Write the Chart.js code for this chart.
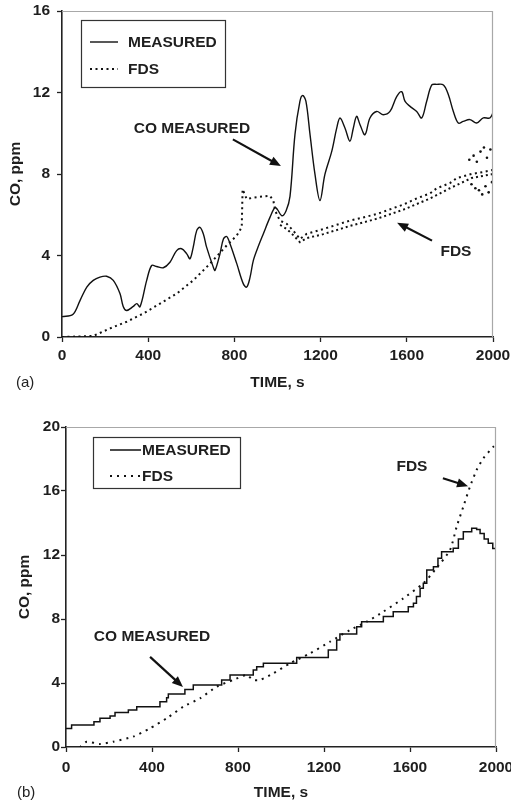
<!DOCTYPE html>
<html><head><meta charset="utf-8">
<script src="https://cdn.jsdelivr.net/npm/chart.js@4.4.1/dist/chart.umd.min.js"></script>
<style>
html,body{margin:0;padding:0;background:#fff;overflow:hidden;width:511px;height:802px}
canvas{position:absolute;left:0}
#ca{top:0}
#cb{top:400px}
.tag{position:absolute;font:15px "Liberation Sans",Arial,sans-serif;color:#222;line-height:18px}
</style></head><body>
<canvas id="ca" width="511" height="392"></canvas>
<canvas id="cb" width="511" height="402"></canvas>
<div class="tag" style="left:16px;top:373px">(a)</div>
<div class="tag" style="left:17px;top:783px">(b)</div>
<script>
// ---------- DATA ----------
const xTickValues = [0, 400, 800, 1200, 1600, 2000];
const yTickValuesA = [0, 4, 8, 12, 16];
const yTickValuesB = [0, 4, 8, 12, 16, 20];
const seriesNames = ['MEASURED', 'FDS'];
const xTitle = 'TIME, s';
const yTitle = 'CO, ppm';

// (a) measured
const timeMeasA = [0,50,84,115,145,176,207,238,269,284,300,331,347,362,393,416,439,470,501,532,555,579,594,609,625,640,656,671,702,710,733,749,764,780,811,841,857,872,888,911,934,965,988,1000,1020,1040,1058,1081,1104,1117,1132,1151,1174,1197,1220,1252,1275,1290,1313,1336,1352,1367,1383,1406,1429,1460,1491,1522,1553,1576,1592,1615,1646,1669,1692,1716,1739,1770,1793,1816,1839,1862,1893,1924,1955,1986,2000];
const coMeasA = [1.0,1.1,1.8,2.45,2.78,2.94,2.98,2.78,2.13,1.5,1.3,1.5,1.64,1.48,2.78,3.51,3.46,3.4,3.67,4.24,4.33,4.08,3.84,4.41,5.22,5.38,5.06,4.41,3.43,3.27,4.08,4.81,4.93,4.57,3.6,2.62,2.45,2.9,3.76,4.45,5.06,5.87,6.36,6.25,5.95,6.2,6.9,9.93,11.56,11.85,11.56,9.93,7.98,6.7,7.98,9.12,10.26,10.75,10.26,9.61,10.26,10.83,10.42,9.93,10.75,11.07,10.91,11.07,11.8,12.04,11.56,11.32,11.07,10.75,11.56,12.37,12.4,12.37,11.89,11.07,10.5,10.58,10.67,10.5,10.75,10.75,11.0];
// (a) FDS
const timeFdsA = [0,145,223,300,377,455,532,609,687,764,811,834,838,857,888,930,965,981,988,996,1012,1043,1073,1104,1135,1213,1336,1460,1584,1646,1708,1739,1800,1832,1900,1955,2000];
const coFdsA = [0,0.05,0.42,0.75,1.15,1.64,2.13,2.78,3.6,4.49,4.98,5.38,7.25,6.77,6.84,6.9,6.93,6.68,6.28,6.03,5.71,5.55,5.22,4.81,5.06,5.3,5.71,6.03,6.5,6.8,7.05,7.3,7.55,7.8,8.0,8.1,8.2];
// (a) FDS lower band of the noisy trace
const timeFdsA2 = [1012,1043,1073,1104,1135,1213,1336,1460,1584,1708,1800,1900,2000];
const coFdsA2 = [5.5,5.3,5.0,4.65,4.85,5.05,5.45,5.8,6.25,6.8,7.3,7.8,8.0];
// (a) FDS scatter at the end
const timeFdsA3 = [1890,1900,1910,1918,1925,1935,1942,1950,1958,1965,1972,1980,1988,1995];
const coFdsA3 = [8.7,7.5,8.9,7.3,8.6,7.2,9.1,7.0,9.3,7.4,8.8,7.1,9.2,7.6];

// (b) measured (stepped: value changes at the given time)
const timeMeasB = [0,26,130,158,205,228,290,329,437,468,476,553,592,724,763,871,887,918,1073,1220,1259,1274,1352,1375,1476,1522,1592,1616,1630,1647,1662,1678,1709,1730,1747,1801,1825,1848,1887,1910,1926,1945,1964,1985,2000];
const coMeasB = [1.15,1.38,1.58,1.79,1.94,2.15,2.31,2.52,2.83,3.08,3.31,3.6,3.87,4.19,4.5,4.81,5.02,5.23,5.6,6.06,6.69,7.06,7.52,7.83,8.15,8.46,8.77,8.98,9.4,9.92,10.23,11.06,11.27,11.8,12.2,12.42,13.0,13.46,13.67,13.6,13.35,13.0,12.73,12.4,12.2];
// (b) FDS
const timeFdsB = [65,96,158,220,313,391,468,546,623,701,778,840,871,902,964,1042,1135,1228,1321,1399,1476,1569,1662,1716,1786,1817,1848,1879,1910,1941,1988,2000];
const coFdsB = [0,0.33,0.19,0.33,0.65,1.17,1.79,2.52,3.04,3.77,4.19,4.5,4.19,4.19,4.6,5.23,5.85,6.58,7.31,7.83,8.46,9.29,10.23,11.06,12.31,13.77,15.02,16.27,17.31,18.04,18.77,18.9];

// annotation texts
const noteMeasured = 'CO MEASURED';
const noteFds = 'FDS';

// ---------- HELPERS ----------
const FONT = '"Liberation Sans", Arial, Helvetica, sans-serif';
const FS = 15.5;
const INK = '#1e1e1e';
Chart.defaults.font.family = FONT;
Chart.defaults.color = INK;
const pts = (xs, ys) => xs.map((x, i) => ({x, y: ys[i]}));

function arrow(ctx, x1, y1, x2, y2) {
  const ang = Math.atan2(y2 - y1, x2 - x1);
  const L = 11, W = 4.5;
  ctx.beginPath();
  ctx.moveTo(x1, y1);
  ctx.lineTo(x2 - (L - 2) * Math.cos(ang), y2 - (L - 2) * Math.sin(ang));
  ctx.lineWidth = 2.2;
  ctx.stroke();
  ctx.beginPath();
  ctx.moveTo(x2, y2);
  ctx.lineTo(x2 - L * Math.cos(ang) + W * Math.sin(ang), y2 - L * Math.sin(ang) - W * Math.cos(ang));
  ctx.lineTo(x2 - L * Math.cos(ang) - W * Math.sin(ang), y2 - L * Math.sin(ang) + W * Math.cos(ang));
  ctx.closePath();
  ctx.fill();
}

const deco = {
  id: 'deco',
  afterDatasetsDraw(chart, args, o) {
    const {ctx, chartArea: a, scales: {x, y}} = chart;
    ctx.save();
    // light frame on top and right
    ctx.strokeStyle = '#a8a8a8';
    ctx.lineWidth = 1.2;
    ctx.beginPath();
    ctx.moveTo(a.left, a.top + 0.5);
    ctx.lineTo(a.right - 0.5, a.top + 0.5);
    ctx.lineTo(a.right - 0.5, a.bottom);
    ctx.stroke();
    // legend
    const L = o.legend;
    ctx.fillStyle = '#fff';
    ctx.fillRect(L.x, L.y, L.w, L.h);
    ctx.strokeStyle = '#333';
    ctx.lineWidth = 1.2;
    ctx.strokeRect(L.x + 0.5, L.y + 0.5, L.w, L.h);
    ctx.font = 'bold ' + FS + 'px ' + FONT;
    ctx.textBaseline = 'middle';
    ctx.textAlign = 'left';
    let k = 0;
    chart.data.datasets.forEach(ds => {
      if (ds.inLegend === false) return;
      const yy = L.y + L.row0 + k * L.gap;
      ctx.strokeStyle = '#111';
      ctx.lineWidth = ds.legendWidth || 1.4;
      ctx.setLineDash(ds.borderDash || []);
      ctx.beginPath();
      ctx.moveTo(L.x + L.s0, yy);
      ctx.lineTo(L.x + L.s1, yy);
      ctx.stroke();
      ctx.setLineDash([]);
      ctx.fillStyle = INK;
      ctx.fillText(ds.label, L.x + L.tx, yy + 1);
      k++;
    });
    // notes with arrows
    ctx.strokeStyle = '#111';
    (o.notes || []).forEach(n => {
      ctx.textAlign = 'center';
      ctx.fillStyle = INK;
      ctx.fillText(n.text, x.getPixelForValue(n.tx), y.getPixelForValue(n.ty));
      ctx.fillStyle = '#111';
      arrow(ctx, x.getPixelForValue(n.ax1), y.getPixelForValue(n.ay1),
                 x.getPixelForValue(n.ax2), y.getPixelForValue(n.ay2));
    });
    ctx.restore();
  }
};

function makeScales(yTicks, yMax, cfg) {
  const grid = {drawOnChartArea: false, drawTicks: true, tickLength: 5, tickColor: '#222', tickWidth: 1.3};
  const font = {size: FS, weight: 'bold', family: FONT};
  const plain = v => String(v);
  return {
    x: {
      type: 'linear', min: 0, max: 2000,
      afterBuildTicks: s => { s.ticks = xTickValues.map(v => ({value: v})); },
      afterFit: s => { s.height = cfg.xh; s.paddingLeft = 0; s.paddingRight = 0; },
      grid, border: {display: true, color: '#222', width: 1.6},
      ticks: {font, color: INK, padding: cfg.xpad, maxRotation: 0, autoSkip: false, callback: plain},
      title: {display: true, text: xTitle, font, color: INK, padding: 0}
    },
    y: {
      type: 'linear', min: 0, max: yMax,
      afterBuildTicks: s => { s.ticks = yTicks.map(v => ({value: v})); },
      afterFit: s => { s.width = cfg.yw; s.paddingTop = 0; s.paddingBottom = 0; },
      grid, border: {display: true, color: '#222', width: 1.6},
      ticks: {font, color: INK, padding: cfg.ypad, callback: plain},
      title: {display: true, text: yTitle, font, color: INK, padding: {top: cfg.ytp, bottom: 0}}
    }
  };
}

// ---------- CHART (a) ----------
new Chart(document.getElementById('ca'), {
  type: 'line',
  data: {
    datasets: [
      {label: seriesNames[0], data: pts(timeMeasA, coMeasA), borderColor: '#111', borderWidth: 1.4,
       pointRadius: 0, tension: 0.35, fill: false, legendWidth: 1.4},
      {label: seriesNames[1], data: pts(timeFdsA, coFdsA), borderColor: '#111', borderWidth: 2,
       borderDash: [2, 3.5], pointRadius: 0, tension: 0, fill: false, legendWidth: 2},
      {label: 'FDS band', inLegend: false, data: pts(timeFdsA2, coFdsA2), borderColor: '#111', borderWidth: 2,
       borderDash: [2, 3], pointRadius: 0, tension: 0, fill: false},
      {label: 'FDS scatter', inLegend: false, type: 'scatter', data: pts(timeFdsA3, coFdsA3), showLine: false,
       pointRadius: 1.3, pointBackgroundColor: '#111', pointBorderWidth: 0}
    ]
  },
  options: {
    responsive: false, animation: false, events: [],
    layout: {padding: {left: 0, top: 11, right: 18, bottom: 0}},
    scales: makeScales(yTickValuesA, 16, {xh: 55, xpad: 4, yw: 62, ypad: 7, ytp: 6}),
    plugins: {
      legend: {display: false}, tooltip: {enabled: false},
      deco: {
        legend: {x: 81, y: 20, w: 144, h: 67, row0: 22, gap: 27, s0: 9, s1: 37, tx: 47},
        notes: [
          {text: noteMeasured, tx: 603, ty: 10.2, ax1: 793, ay1: 9.7, ax2: 1016, ay2: 8.39},
          {text: noteFds, tx: 1828, ty: 4.2, ax1: 1717, ay1: 4.73, ax2: 1555, ay2: 5.61}
        ]
      }
    }
  },
  plugins: [deco]
});

// ---------- CHART (b) ----------
new Chart(document.getElementById('cb'), {
  type: 'line',
  data: {
    datasets: [
      {label: seriesNames[0], data: pts(timeMeasB, coMeasB), borderColor: '#111', borderWidth: 1.5,
       pointRadius: 0, stepped: 'before', fill: false, legendWidth: 1.5},
      {label: seriesNames[1], data: pts(timeFdsB, coFdsB), borderColor: '#111', borderWidth: 2,
       borderDash: [2, 5], pointRadius: 0, tension: 0.2, fill: false, legendWidth: 2}
    ]
  },
  options: {
    responsive: false, animation: false, events: [],
    layout: {padding: {left: 0, top: 27, right: 15, bottom: 0}},
    scales: makeScales(yTickValuesB, 20, {xh: 55, xpad: 6, yw: 66, ypad: 1, ytp: 15}),
    plugins: {
      legend: {display: false}, tooltip: {enabled: false},
      deco: {
        legend: {x: 93, y: 37, w: 147, h: 51, row0: 13, gap: 26, s0: 17, s1: 48, tx: 49},
        notes: [
          {text: noteMeasured, tx: 400, ty: 6.9, ax1: 391, ay1: 5.63, ax2: 544, ay2: 3.75},
          {text: noteFds, tx: 1609, ty: 17.5, ax1: 1753, ay1: 16.8, ax2: 1870, ay2: 16.3}
        ]
      }
    }
  },
  plugins: [deco]
});
</script>
</body></html>
